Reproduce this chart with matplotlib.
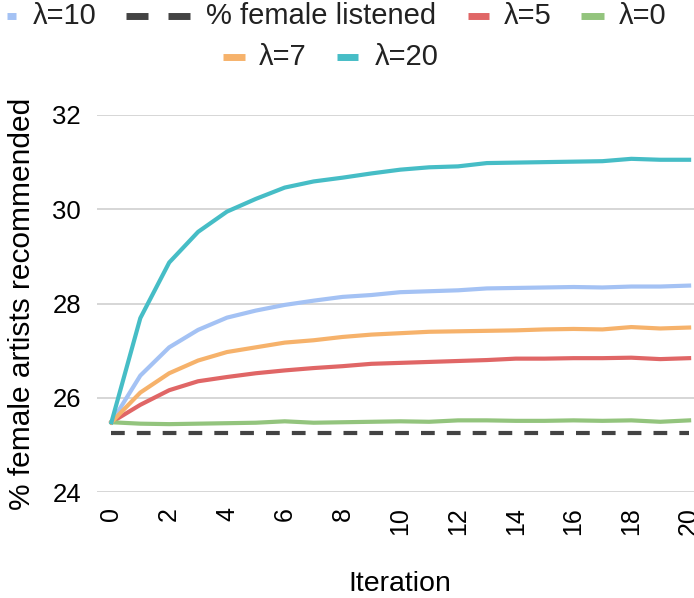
import matplotlib
matplotlib.use('Agg')
import matplotlib.pyplot as plt
from matplotlib.lines import Line2D

plt.rcParams['font.family'] = ['Liberation Sans', 'DejaVu Sans']

# data
iterations = list(range(21))
lam10 = [25.48, 26.47, 27.07, 27.44, 27.70, 27.85, 27.97, 28.06, 28.14, 28.18, 28.24,
         28.26, 28.28, 28.32, 28.33, 28.34, 28.35, 28.34, 28.36, 28.36, 28.38]
lam5 = [25.48, 25.85, 26.16, 26.35, 26.44, 26.52, 26.58, 26.63, 26.67, 26.72, 26.74,
        26.76, 26.78, 26.80, 26.83, 26.83, 26.84, 26.84, 26.85, 26.82, 26.84]
lam0 = [25.48, 25.45, 25.44, 25.45, 25.46, 25.47, 25.50, 25.47, 25.48, 25.49, 25.50,
        25.49, 25.52, 25.52, 25.51, 25.51, 25.52, 25.51, 25.52, 25.49, 25.52]
lam7 = [25.48, 26.11, 26.52, 26.79, 26.97, 27.07, 27.17, 27.22, 27.29, 27.34, 27.37,
        27.40, 27.41, 27.42, 27.43, 27.45, 27.46, 27.45, 27.50, 27.47, 27.49]
lam20 = [25.48, 27.69, 28.87, 29.52, 29.95, 30.22, 30.46, 30.59, 30.67, 30.76, 30.84,
         30.89, 30.91, 30.98, 30.99, 31.00, 31.01, 31.02, 31.07, 31.05, 31.05]
female_listened = 25.26

labels = ['λ=10', '% female listened', 'λ=5', 'λ=0', 'λ=7', 'λ=20']
colors = ['#a4c2f4', '#434343', '#e06666', '#93c47d', '#f6b26b', '#46bdc6']

W, H = 694, 598
fig = plt.figure(figsize=(W / 100, H / 100), dpi=100)
ax = fig.add_axes([97 / W, 1 - 492 / H, 1 - 97 / W, (492 - 115) / H])

series = [lam10, [female_listened] * len(iterations), lam5, lam0, lam7, lam20]
for vals, lab, col in zip(series, labels, colors):
    if lab.startswith('%'):
        ax.plot(iterations, vals, color=col, lw=3.0, dashes=(3.3, 2.9), label=lab)
    else:
        ax.plot(iterations, vals, color=col, lw=3.0, label=lab, solid_joinstyle='round')

ax.set_xlim(-0.5, 20.17)
ax.set_ylim(24, 32)
ax.set_yticks([24, 26, 28, 30, 32])
ax.set_xticks(range(0, 21, 2))
ax.tick_params(axis='x', labelrotation=90, length=0, pad=11, labelsize=18)
ax.tick_params(axis='y', length=0, pad=11.5, labelsize=18.5)
ax.grid(axis='y', color='#cccccc', lw=1.1)
ax.set_axisbelow(True)
for s in ax.spines.values():
    s.set_visible(False)

ax.set_ylabel('% female artists recommended', fontsize=21.5, va='center')
ax.yaxis.set_label_coords(-(97 - 22) / 597, 0.5)
ax.set_xlabel('Iteration', fontsize=20.5, va='center')
ax.xaxis.set_label_coords((400 - 97) / 597, -(584 - 492) / 377)

# legend drawn in two centred rows like the original
def fx(px):
    return px / W

def fy(py):
    return 1 - py / H

slots = [(16, 7, 16, 33), (16, 126, 190, 206), (16, 468, 489, 504), (16, 581, 604, 619),
         (57, 223, 245, 259), (57, 337, 358, 375)]
for (row, x0, x1, tx), lab, col in zip(slots, labels, colors):
    if lab.startswith('%'):
        for a, b in [(x0, x0 + 22), (x1 - 22, x1)]:
            fig.add_artist(Line2D([fx(a), fx(b)], [fy(row), fy(row)], transform=fig.transFigure,
                                  color=col, lw=5, solid_capstyle='butt'))
    else:
        fig.add_artist(Line2D([fx(x0), fx(x1)], [fy(row), fy(row)], transform=fig.transFigure,
                              color=col, lw=5, solid_capstyle='butt'))
    fig.text(fx(tx), fy(row), lab, fontsize=21, ha='left', va='center', color='#222222')

fig.savefig('out.png', dpi=100)
